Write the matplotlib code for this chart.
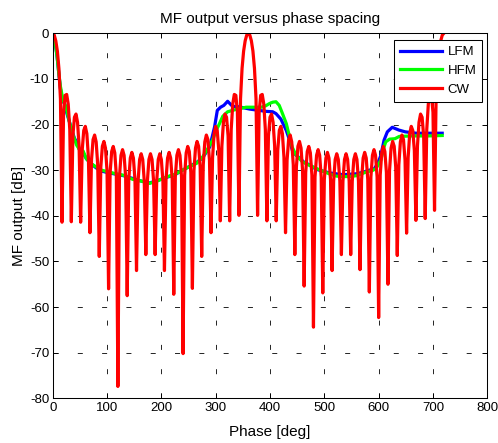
import matplotlib
matplotlib.use("Agg")
import matplotlib.pyplot as plt
import numpy as np

# ---------------- data ----------------
# CW matched-filter output, sampled every 360/126 deg from 0 to 720 deg
cw_phase_start = 0.0
cw_phase_end = 720.0
cw_db = [
    0.0, -0.4, -1.65, -3.9, -7.7, -14.4,
    -41.4, -17.3, -13.6, -13.4, -15.5, -21.1,
    -41.3, -22.5, -18.4, -17.7, -19.5, -24.7,
    -41.4, -25.65, -21.3, -20.4, -22.0, -27.2,
    -43.7, -27.8, -23.3, -22.3, -23.8, -28.8,
    -48.9, -29.3, -24.75, -23.7, -25.15, -30.1,
    -56.0, -30.5, -25.9, -24.8, -26.2, -31.1,
    -77.4, -31.5, -26.75, -25.5, -26.75, -31.5,
    -57.5, -32.1, -27.35, -26.1, -27.35, -32.1,
    -52.0, -32.4, -27.65, -26.4, -27.65, -32.4,
    -48.5, -32.4, -27.65, -26.4, -27.65, -32.4,
    -48.5, -32.4, -27.65, -26.4, -27.65, -32.4,
    -52.0, -32.1, -27.35, -26.1, -27.35, -32.1,
    -57.2, -31.5, -26.75, -25.5, -26.75, -31.5,
    -70.2, -31.1, -26.2, -24.8, -25.9, -30.5,
    -55.9, -30.1, -25.15, -23.7, -24.75, -29.3,
    -48.9, -28.8, -23.8, -22.3, -23.3, -27.8,
    -43.7, -27.2, -22.0, -20.4, -21.3, -25.65,
    -41.1, -24.7, -19.5, -17.7, -18.4, -22.5,
    -41.1, -21.1, -15.5, -13.4, -13.6, -17.3,
    -39.9, -14.4, -7.7, -3.9, -1.65, -0.4,
    0.0, -0.4, -1.65, -3.9, -7.7, -14.4,
    -39.9, -17.3, -13.6, -13.4, -15.5, -21.1,
    -41.1, -22.5, -18.4, -17.7, -19.5, -24.7,
    -41.1, -25.65, -21.3, -20.4, -22.0, -27.2,
    -43.7, -27.8, -23.3, -22.3, -23.8, -28.8,
    -48.5, -29.3, -24.75, -23.7, -25.15, -30.1,
    -55.4, -30.5, -25.9, -24.8, -26.2, -31.1,
    -64.4, -31.5, -26.75, -25.5, -26.75, -31.5,
    -56.9, -32.1, -27.35, -26.1, -27.35, -32.1,
    -52.0, -32.4, -27.65, -26.4, -27.65, -32.4,
    -48.5, -32.4, -27.65, -26.4, -27.65, -32.4,
    -48.5, -32.4, -27.65, -26.4, -27.65, -32.4,
    -51.8, -32.1, -27.35, -26.1, -27.35, -32.1,
    -56.7, -31.5, -26.75, -25.5, -26.75, -31.5,
    -62.3, -31.1, -26.2, -24.8, -25.9, -30.5,
    -55.0, -30.1, -25.15, -23.7, -24.75, -29.3,
    -48.7, -28.8, -23.8, -22.3, -23.3, -27.8,
    -43.8, -27.2, -22.0, -20.4, -21.3, -25.65,
    -41.0, -24.7, -19.5, -17.7, -18.4, -22.5,
    -40.6, -21.1, -15.5, -13.4, -13.6, -17.3,
    -38.8, -14.4, -7.7, -3.9, -1.65, -0.4,
    0.0,
]

lfm_phase = [0, 4, 8, 11, 14, 18, 22, 26, 31, 36, 40, 45, 50, 56, 62, 70, 80, 90,
             100, 117, 130, 147, 160, 178, 190, 209, 225, 239, 250, 265, 276, 283,
             289, 294, 298, 303, 309, 315, 322, 331, 343, 362, 380, 392, 405, 411,
             420, 430, 436, 441, 447, 454, 462, 472, 485, 497, 510, 522, 535, 546,
             558, 570, 580, 592, 598, 604, 610, 616, 625, 637, 649, 669, 690, 717]
lfm_db = [0, -1.5, -5, -8.5, -12, -14.7, -15.5, -17.5, -19.5, -21.5, -23, -24, -25.8,
          -26.2, -27.5, -28.5, -29.5, -30.2, -30.5, -30.9, -31.2, -31.8, -32.3, -32.8,
          -32.4, -31.6, -31, -30, -29.3, -28.3, -27.3, -26, -24.9, -22.5, -20.5, -16.9,
          -16.2, -15.8, -14.9, -16, -16.1, -16.6, -16.9, -17.1, -17.2, -17.6, -18.8,
          -21.3, -23.4, -25.6, -26.6, -27.3, -28.2, -28.8, -29.8, -30.2, -30.6, -30.8,
          -31, -30.9, -30.8, -30.5, -30.1, -29.7, -28.6, -26.8, -23.4, -21.6, -20.6,
          -21.2, -21.6, -21.9, -21.9, -21.9]

hfm_phase = [0, 4, 8, 11, 14, 19, 24, 28, 32, 38, 44, 50, 56, 62, 70, 80, 90, 100,
             117, 130, 147, 160, 178, 190, 209, 225, 239, 250, 265, 276, 283, 289, 294,
             301, 307, 313, 322, 337, 356, 384, 392, 399, 405, 411, 417, 423, 430, 436,
             441, 448, 460, 472, 485, 497, 509, 522, 535, 546, 560, 577, 588, 595, 604,
             610, 613, 620, 630, 638, 660, 690, 717]
hfm_db = [0, -1.5, -5, -8.5, -11.5, -14.7, -16, -18, -20, -22.5, -24.5, -25.6, -25.8,
          -27.5, -28.5, -29.3, -30, -30.3, -30.8, -31.1, -32, -32.3, -32.9, -32.5,
          -31.5, -30.9, -30, -29.3, -28.5, -27.1, -25.8, -24.5, -23.5, -21.3, -19.8,
          -18.2, -17.2, -16.7, -16.2, -16.2, -15.9, -15.4, -15.1, -15.0, -15.8, -17.6,
          -19.8, -22.7, -25, -26.7, -28.2, -28.9, -29.6, -30.2, -30.8, -31.3, -31.4,
          -31.4, -31.2, -30.4, -30.1, -29.7, -27.8, -24.9, -23.8, -23.2, -23.1, -22.6,
          -22.5, -22.5, -22.4]

series_labels = ["LFM", "HFM", "CW"]
x_ticks = list(range(0, 801, 100))
y_ticks = list(range(-80, 1, 10))
title_text = "MF output versus phase spacing"
x_label = "Phase [deg]"
y_label = "MF output [dB]"

# ---------------- figure ----------------
plt.rcParams["font.family"] = ["Liberation Sans", "DejaVu Sans"]
plt.rcParams["lines.scale_dashes"] = False
plt.rcParams["axes.unicode_minus"] = False

W, H = 498, 443
fig = plt.figure(figsize=(W / 100, H / 100), dpi=100)
left, right, top, bottom = 52.7, 487.3, 33.3, 398.3
ax = fig.add_axes([left / W, 1 - bottom / H, (right - left) / W, (bottom - top) / H])

cw_phase = np.linspace(cw_phase_start, cw_phase_end, len(cw_db))

ax.plot(lfm_phase, lfm_db, color=(0, 0, 1), lw=2.3, label=series_labels[0])
ax.plot(hfm_phase, hfm_db, color=(0, 1, 0), lw=2.3, label=series_labels[1])
ax.plot(cw_phase, cw_db, color=(1, 0, 0), lw=2.3, label=series_labels[2])

ax.set_xlim(0, 800)
ax.set_ylim(-80, 0)
ax.set_xticks(x_ticks)
ax.set_yticks(y_ticks)
ax.tick_params(direction="in", length=3.6, width=0.7, top=True, right=True,
               labelsize=9.5, pad=2.5, colors="black")
ax.set_axisbelow(True)
ax.grid(True, color="black", linestyle=(0, (3.6, 13.9)), linewidth=0.6)
for s in ax.spines.values():
    s.set_linewidth(0.75)
    s.set_color("black")

ax.set_title(title_text, fontsize=11, pad=7.6)
ax.set_xlabel(x_label, fontsize=11, labelpad=8)
ax.set_ylabel(y_label, fontsize=11, labelpad=3)

leg = ax.legend(loc="upper right", bbox_to_anchor=(0.9885, 0.9816), borderaxespad=0,
                fontsize=9.5, handlelength=3.2, handletextpad=0.4, labelspacing=0.5,
                borderpad=0.45, fancybox=False, edgecolor="black", framealpha=1)
leg.get_frame().set_linewidth(0.75)

fig.savefig("out.png", dpi=100)
